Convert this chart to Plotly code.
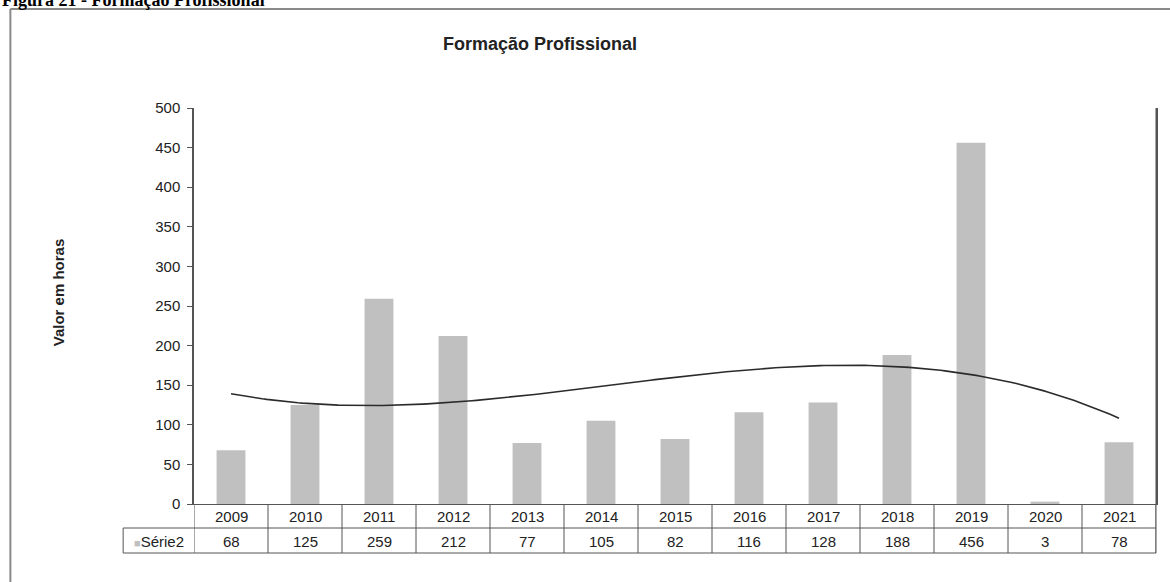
import numpy as np
import plotly.graph_objects as go

# Horas de formação profissional por ano
anos = ["2009", "2010", "2011", "2012", "2013", "2014", "2015",
        "2016", "2017", "2018", "2019", "2020", "2021"]
horas = [68, 125, 259, 212, 77, 105, 82, 116, 128, 188, 456, 3, 78]
serie_nome = "Série2"
y_ticks = [0, 50, 100, 150, 200, 250, 300, 350, 400, 450, 500]

W, H = 1170, 582
M_L, M_R, M_T, M_B = 194, 12, 108, 78
plot_w = W - M_L - M_R
plot_h = H - M_T - M_B
FS = 15  # tamanho da fonte dos rótulos

def px_x(px):
    """Paper x for an absolute pixel column."""
    return (px - M_L) / plot_w

def px_y(px):
    """Paper y for an absolute pixel row."""
    return (H - M_B - px) / plot_h

n = len(anos)
idx = np.arange(n)

# Linha de tendência polinomial (ordem 3), como no Excel
coef = np.polyfit(idx + 1, horas, 3)
xs = np.linspace(0, n - 1, 200)
ys = np.polyval(coef, xs + 1)

fig = go.Figure()
fig.add_trace(go.Bar(
    x=idx, y=horas, width=0.39,
    marker=dict(color="#c0c0c0", line=dict(width=0)),
    showlegend=False, hoverinfo="x+y",
))
fig.add_trace(go.Scatter(
    x=xs, y=ys, mode="lines",
    line=dict(color="#2b2b2b", width=1.6),
    showlegend=False, hoverinfo="skip",
))

line_col = "#555555"
shapes = []
ann = []

# Tabela de dados sob o eixo
row1, row2 = 528, 553
for i in range(n + 1):
    shapes.append(dict(type="line", xref="x", yref="paper",
                       x0=i - 0.5, x1=i - 0.5, y0=0, y1=px_y(row2),
                       line=dict(color=line_col, width=1)))
for r in (row1, row2):
    shapes.append(dict(type="line", xref="paper", yref="paper",
                       x0=px_x(123), x1=1, y0=px_y(r), y1=px_y(r),
                       line=dict(color=line_col, width=1)))
shapes.append(dict(type="line", xref="paper", yref="paper",
                   x0=px_x(123), x1=px_x(123), y0=px_y(row1), y1=px_y(row2),
                   line=dict(color=line_col, width=1)))

for i, (a, v) in enumerate(zip(anos, horas)):
    ann.append(dict(x=i, xref="x", y=px_y(516), yref="paper", text=a,
                    showarrow=False, font=dict(size=FS, color="#222"),
                    yanchor="middle"))
    ann.append(dict(x=i, xref="x", y=px_y(541), yref="paper", text=str(v),
                    showarrow=False, font=dict(size=FS, color="#222"),
                    yanchor="middle"))

# Legenda da série na tabela
ann.append(dict(x=px_x(159), xref="paper", y=px_y(541), yref="paper",
                text="<span style='color:#c0c0c0;font-size:11px'>■</span>" + serie_nome,
                showarrow=False, font=dict(size=FS, color="#222"),
                xanchor="center", yanchor="middle"))

# Moldura externa do gráfico
shapes.append(dict(type="line", xref="paper", yref="paper",
                   x0=px_x(10), x1=px_x(10), y0=px_y(9), y1=px_y(590),
                   line=dict(color="#8a8a8a", width=2)))
shapes.append(dict(type="line", xref="paper", yref="paper",
                   x0=px_x(10), x1=px_x(1180), y0=px_y(9), y1=px_y(9),
                   line=dict(color="#8a8a8a", width=2)))
# Borda direita da área de plotagem
shapes.append(dict(type="line", xref="paper", yref="paper",
                   x0=1, x1=1, y0=1, y1=px_y(row2),
                   line=dict(color=line_col, width=1)))

# Legenda da figura (no topo da página)
ann.append(dict(x=px_x(0), xref="paper", y=px_y(0), yref="paper",
                text="<b>Figura 21 - Formação Profissional</b>",
                showarrow=False, xanchor="left", yanchor="middle",
                font=dict(family="Liberation Serif", size=18, color="#000")))

# Título do gráfico
ann.append(dict(x=px_x(541), xref="paper", y=px_y(44), yref="paper",
                text="<b>Formação Profissional</b>", showarrow=False,
                xanchor="center", yanchor="middle",
                font=dict(size=18, color="#222")))

# Título do eixo Y
ann.append(dict(x=px_x(58), xref="paper", y=px_y(292), yref="paper",
                text="<b>Valor em horas</b>", showarrow=False, textangle=-90,
                xanchor="center", yanchor="middle",
                font=dict(size=FS, color="#222")))

fig.update_layout(
    width=W, height=H,
    margin=dict(l=M_L, r=M_R, t=M_T, b=M_B),
    paper_bgcolor="white", plot_bgcolor="white",
    font=dict(family="Liberation Sans, Arial", size=FS, color="#222"),
    shapes=shapes, annotations=ann,
    bargap=0.6,
)
fig.update_xaxes(range=[-0.5, n - 0.5], showticklabels=False, ticks="",
                 showgrid=False, zeroline=False, showline=True,
                 linecolor=line_col, linewidth=1, mirror=False)
fig.update_yaxes(range=[0, 500], tickvals=y_ticks, ticks="outside", ticklen=5,
                 tickcolor=line_col, showgrid=False, zeroline=False,
                 showline=True, linecolor=line_col, linewidth=1.5,
                 mirror=True, tickfont=dict(size=FS, color="#222"),
                 ticklabelstandoff=4)

fig.write_html("out.html")
